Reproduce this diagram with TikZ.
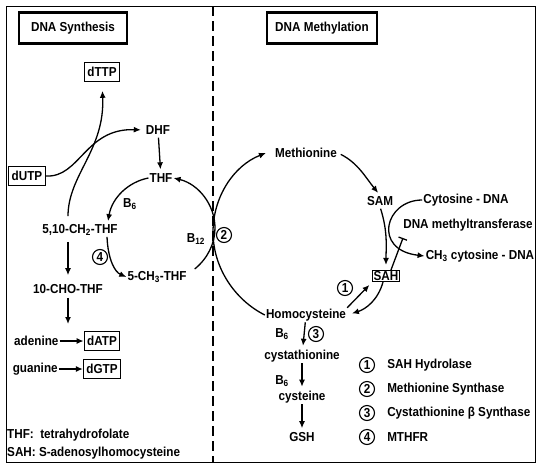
\documentclass[tikz,border=0pt]{standalone}
\usepackage{fontspec}
\setmainfont{Liberation Sans}[FakeStretch=0.9]
\usetikzlibrary{arrows.meta,positioning,calc}
\tikzset{
  cpd/.style    = {font=\fontsize{13}{15}\selectfont\bfseries, inner sep=1pt},
  title/.style  = {cpd, draw, line width=2.2pt, minimum width=108pt, minimum height=31pt},
  boxed/.style  = {cpd, draw, line width=1.1pt, inner xsep=3pt, inner ysep=4.5pt},
  enz/.style    = {cpd, circle, draw, line width=1.1pt, inner sep=0pt, minimum size=15pt},
  sig/.style    = {-{Latex[length=7pt,width=6pt]}, line width=1.3pt},
  inhib/.style  = {-{Bar[width=9pt]}, line width=1.3pt},
  lgd/.style    = {cpd, anchor=west},
}
\begin{document}
\begin{tikzpicture}[x=1pt,y=-1pt]
  \useasboundingbox (0,0) rectangle (541,472);
  \draw[line width=1pt] (6,6) rectangle (535,462);
  \draw[line width=2pt, dash pattern=on 10pt off 5pt] (213,6) -- (213,462);
  % titles
  \node[title] (synth) at (73,28) {DNA Synthesis};
  \node[title, minimum width=110pt] (methyl) at (322,28) {DNA Methylation};
  % folate side
  \node[boxed] (dttp) at (102,72) {dTTP};
  \node[cpd] (dhf) at (158,130) {DHF};
  \node[boxed] (dutp) at (27,176) {dUTP};
  \node[cpd] (thf) at (161,178) {THF};
  \node[cpd] (ch2thf) at (80,230) {5,10-CH\textsubscript{2}-THF};
  \node[cpd] (b6a) at (130,204) {B\textsubscript{6}};
  \node[enz] (e4) at (100,257) {4};
  \node[cpd] (mthf) at (157,277) {5-CH\textsubscript{3}-THF};
  \node[cpd] (b12) at (196,239) {B\textsubscript{12}};
  \node[enz] (e2) at (224,235) {2};
  \node[cpd] (chothf) at (68,289) {10-CHO-THF};
  \node[boxed] (datp) at (102,341) {dATP};
  \node[boxed] (dgtp) at (102,369) {dGTP};
  \node[cpd, left=24pt of datp] (adenine) {adenine};
  \node[cpd, left=24pt of dgtp] (guanine) {guanine};
  \coordinate (nuc) at (68,324);
  \node[lgd] (thfkey) at (6,435) {THF:~~tetrahydrofolate};
  \node[lgd] (sahkey) at (6,453) {SAH:~S-adenosylhomocysteine};
  % methionine side
  \node[cpd] (met) at (306,153) {Methionine};
  \node[cpd] (sam) at (380,201) {SAM};
  \node[cpd] (cyt) at (466,200) {Cytosine - DNA};
  \node[cpd] (dnmt) at (468,225) {DNA methyltransferase};
  \node[cpd] (mcyt) at (480,256) {CH\textsubscript{3} cytosine - DNA};
  \node[draw, cpd, line width=0.9pt] (sah) at (386,276) {SAH};
  \node[enz] (e1) at (345,288) {1};
  \node[cpd] (hcy) at (306,315) {Homocysteine};
  \node[cpd] (b6b) at (282,334) {B\textsubscript{6}};
  \node[enz] (e3) at (316,334) {3};
  \node[cpd] (cysta) at (302,356) {cystathionine};
  \node[cpd] (b6c) at (282,381) {B\textsubscript{6}};
  \node[cpd] (cys) at (302,397) {cysteine};
  \node[cpd] (gsh) at (302,437) {GSH};
  \coordinate (blk) at (403,238);
  % enzyme key
  \node[enz] (k1) at (367,365) {1};
  \node[enz] (k2) at (367,389) {2};
  \node[enz] (k3) at (367,413) {3};
  \node[enz] (k4) at (367,437) {4};
  \node[cpd, right=11pt of k1] {SAH Hydrolase};
  \node[cpd, right=11pt of k2] {Methionine Synthase};
  \node[cpd, right=11pt of k3] {Cystathionine β Synthase};
  \node[cpd, right=11pt of k4] {MTHFR};
  % folate cycle
  \coordinate (xl) at (215,228);
  \draw[sig] ($(mthf.east)+(7,-8)$) .. controls (207.5,258.6) and (215,243.7) .. (xl)
    .. controls (215,204.4) and (198.1,183.9) .. (thf.east);
  \draw[sig, shorten <=2pt, shorten >=3pt] (dhf) -- (thf);
  \draw[sig] (thf.west) .. controls (128,182) and (112,198) .. ($(ch2thf.north)+(28,-2)$);
  \draw[sig] ($(ch2thf.south)+(27,0)$) .. controls (108,260) and (115,272) .. (mthf.west);
  \draw[sig, shorten >=9pt] ($(ch2thf.north)+(-12,-7)$) .. controls (68,175) and (105,150) .. (dttp.south);
  \draw[sig, shorten >=4pt] (dutp.east) .. controls (80,178) and (85,128) .. (dhf.west);
  \draw[sig, shorten <=5pt, shorten >=8pt] (chothf.north |- ch2thf.south) -- (chothf.north);
  \draw[sig, shorten <=3pt] (chothf) -- (nuc);
  \draw[sig] (adenine) -- (datp);
  \draw[sig] (guanine) -- (dgtp);
  % methionine cycle
  \coordinate (xr) at (213,232);
  \draw[sig] (hcy.west) .. controls (234.8,299.9) and (213,267.7) .. (xr)
    .. controls (213,197.4) and (233.3,165.8) .. ($(met.west)+(-8,0)$);
  \draw[sig, shorten <=3pt, shorten >=3pt] (met.east) .. controls (358,163) and (366,178) .. (sam.north);
  \draw[sig, shorten <=2pt, shorten >=5pt] (sam.south) .. controls (388,232) and (386,248) .. (sah.north);
  \draw[sig] (cyt.west) .. controls (385,200) and (372,250) .. (mcyt.west);
  \draw[inhib] ($(sah.north)+(5,0)$) -- (blk);
  \draw[sig, shorten >=4pt] (hcy.north east) -- (sah.south west);
  \draw[sig, shorten >=5pt] ($(sah.south)+(-3,0)$) .. controls (378,300) and (366,309) .. (hcy.east);
  \draw[sig, shorten >=3pt] (hcy) -- (cysta);
  \draw[sig, shorten >=3pt] (cysta) -- (cys);
  \draw[sig, shorten >=3pt] (cys) -- (gsh);
\end{tikzpicture}
\end{document}
